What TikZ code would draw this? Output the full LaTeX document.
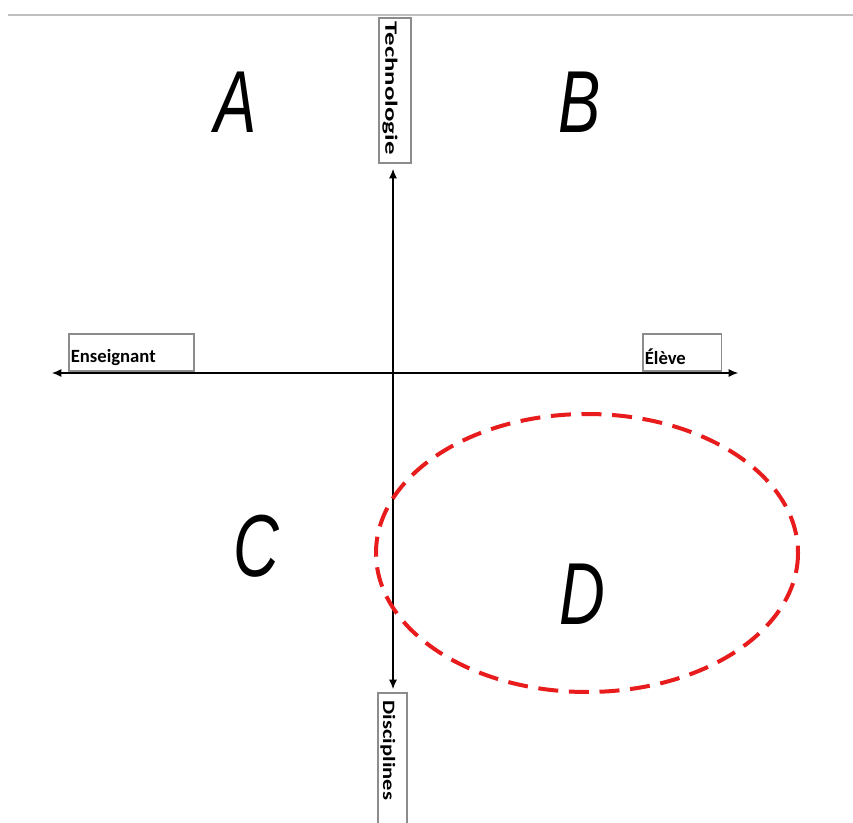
\documentclass[tikz,border=0pt]{standalone}
\usepackage{fontspec}
\setmainfont{Carlito}
\newfontfamily\bigletter{Liberation Sans}
\usetikzlibrary{arrows.meta}
\definecolor{dashred}{RGB}{232,28,28}
\definecolor{boxgray}{RGB}{140,140,140}
\tikzset{
  lbl/.style={draw=boxgray, line width=1.2pt, inner xsep=1.5pt, inner ysep=0pt, align=left, anchor=north west},
  big/.style={font=\bigletter\itshape\fontsize{66}{66}\selectfont, xscale=0.72, inner sep=0pt},
  axis/.style={line width=0.8pt, {Latex[length=7pt,width=6pt]}-{Latex[length=7pt,width=6pt]}}
}
\begin{document}
\begin{tikzpicture}[x=0.75pt,y=-0.75pt]
\useasboundingbox (0,0) rectangle (853,823);
\fill[white] (0,0) rectangle (853,823);
\draw[gray!50, line width=1pt] (8,15) -- (853,15);
% label boxes
\node[lbl, text width=90.75pt, minimum height=27.75pt, font=\bfseries\fontsize{14}{14}\selectfont] (ens) at (68,333) {\rule{0pt}{18pt}Enseignant};
\node[lbl, text width=56pt, minimum height=27.75pt, font=\bfseries\fontsize{14}{14}\selectfont] (ele) at (642,333) {\rule{0pt}{18pt}Élève};
\node[lbl, rotate=-90, text width=103pt, minimum height=24pt, font=\bfseries\fontsize{13}{13}\selectfont, inner xsep=3pt] (tec) at (412,17) {\rule{0pt}{17pt}\scalebox{1.55}[1]{Technologie}};
\node[lbl, rotate=-90, text width=110pt, minimum height=22pt, font=\bfseries\fontsize{13}{13}\selectfont, inner xsep=6pt] (dis) at (408,692) {\rule{0pt}{16pt}\scalebox{1.3}[1]{Disciplines}};
% axes
\coordinate (L) at (52,373);
\coordinate (R) at (738,373);
\coordinate (T) at (393,169);
\coordinate (Bt) at (393,689);
\draw[axis] (L) -- (R);
\draw[axis] (T) -- (Bt);
% letters
\node[big] (A) at (236,102) {A};
\node[big] (B) at (580,102) {B};
\node[big] (C) at (256,546) {C};
\node[big] (D) at (582,594) {D};
% ellipse
\draw[dashred, line width=3pt, dash pattern=on 15pt off 8pt] (587,553) ellipse [x radius=211, y radius=139];
\end{tikzpicture}
\end{document}
